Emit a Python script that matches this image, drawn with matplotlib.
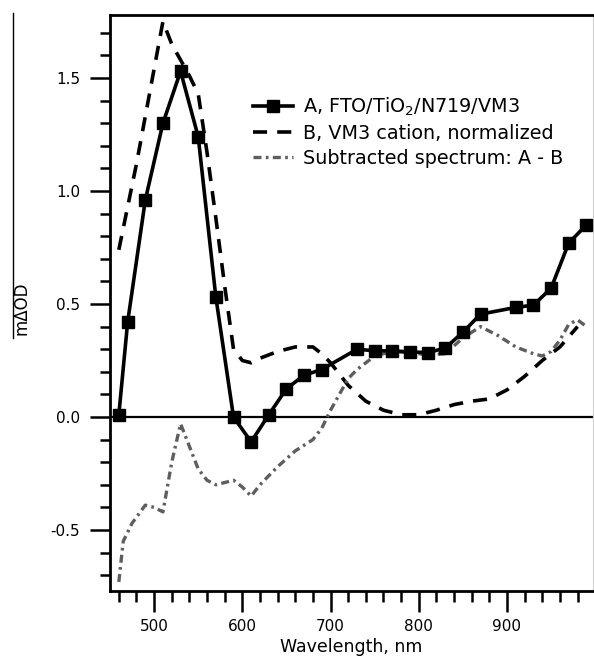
import matplotlib
matplotlib.use("Agg")
import matplotlib.pyplot as plt
from matplotlib.lines import Line2D
from matplotlib.ticker import MultipleLocator

plt.rcParams['font.family'] = ['DejaVu Sans']
plt.rcParams['mathtext.fontset'] = 'dejavusans'
plt.rcParams['mathtext.default'] = 'regular'

# Series A: FTO/TiO2/N719/VM3 (squares)
wl_a = [460, 470, 490, 510, 530, 550, 570, 590, 610, 630, 650, 670, 690,
        730, 750, 770, 790, 810, 830, 850, 870, 910, 930, 950, 970, 990]
od_a = [0.01, 0.42, 0.96, 1.30, 1.53, 1.24, 0.53, 0.0, -0.11, 0.01, 0.125, 0.185, 0.21,
        0.30, 0.293, 0.293, 0.288, 0.285, 0.305, 0.375, 0.455, 0.485, 0.495, 0.57, 0.77, 0.85]

# Series B: VM3 cation, normalized (dashed)
wl_b = [460, 470, 480, 490, 500, 510, 520, 530, 540, 550, 560, 570, 580, 590,
        600, 610, 620, 640, 660, 680, 690, 700, 720, 740, 760, 780, 800,
        820, 840, 860, 880, 900, 920, 940, 960, 980]
od_b = [0.74, 0.93, 1.12, 1.33, 1.54, 1.75, 1.65, 1.58, 1.51, 1.43, 1.17, 0.88, 0.58, 0.30,
        0.25, 0.24, 0.26, 0.29, 0.31, 0.31, 0.28, 0.24, 0.14, 0.07, 0.03, 0.01, 0.01,
        0.03, 0.055, 0.07, 0.08, 0.12, 0.18, 0.25, 0.31, 0.40]

# Subtracted spectrum: A - B (dash-dot)
wl_c = [460, 465, 475, 490, 500, 510, 520, 530, 540, 550, 560, 570, 580, 590,
        600, 610, 620, 640, 660, 680, 690, 700, 710, 720, 730, 750, 770, 790,
        810, 830, 850, 870, 890, 910, 930, 940, 950, 960, 970, 980, 990]
od_c = [-0.73, -0.55, -0.47, -0.39, -0.40, -0.42, -0.20, -0.03, -0.13, -0.23, -0.28, -0.30, -0.29, -0.28,
        -0.31, -0.35, -0.30, -0.22, -0.15, -0.10, -0.05, 0.03, 0.10, 0.17, 0.21, 0.27, 0.29, 0.285,
        0.275, 0.28, 0.35, 0.40, 0.36, 0.31, 0.28, 0.27, 0.29, 0.34, 0.41, 0.43, 0.40]

labels = ['A, FTO/TiO$_2$/N719/VM3', 'B, VM3 cation, normalized', 'Subtracted spectrum: A - B']

W, H = 594, 663
fig = plt.figure(figsize=(W / 100, H / 100), dpi=100)
ax = fig.add_axes([110 / W, 1 - 591 / H, (593 - 110) / W, (591 - 15) / H])

ax.axhline(0, color='black', lw=1.6, zorder=1)
ax.plot(wl_a, od_a, color='black', lw=2.6, marker='s', markersize=9, label=labels[0], zorder=3)
ax.plot(wl_b, od_b, color='black', lw=2.6, dashes=[3.9, 2.8], label=labels[1], zorder=2)
ax.plot(wl_c, od_c, color='#5e5e5e', lw=2.4, dashes=[2.4, 1.3, 0.8, 1.3], label=labels[2], zorder=2)

ax.set_xlim(450, 997.5)
ax.set_ylim(-0.77, 1.779)

ax.xaxis.set_major_locator(MultipleLocator(100))
ax.xaxis.set_minor_locator(MultipleLocator(20))
ax.yaxis.set_major_locator(MultipleLocator(0.5))
ax.yaxis.set_minor_locator(MultipleLocator(0.1))
ax.yaxis.set_major_formatter(plt.FuncFormatter(lambda v, p: f"{v:.1f}"))

ax.tick_params(axis='both', which='major', direction='out', width=1.8, labelsize=11)
ax.tick_params(axis='x', which='major', length=15, pad=5)
ax.tick_params(axis='x', which='minor', direction='out', length=8, width=1.8)
ax.tick_params(axis='y', which='major', length=14.4, pad=7)
ax.tick_params(axis='y', which='minor', direction='out', length=7.2, width=1.8)

for s in ['left', 'bottom', 'top']:
    ax.spines[s].set_linewidth(2.0)
ax.spines['right'].set_color('#d0d0d0')
ax.spines['right'].set_linewidth(0.8)

ax.set_xlabel('Wavelength, nm', fontsize=12.5, labelpad=3)

fig.text(21 / W, 1 - 308 / H, 'mΔOD', rotation=90, fontsize=12, ha='center', va='center')
fig.add_artist(Line2D([13 / W, 13 / W], [1 - 13 / H, 1 - 338 / H], color='black', lw=1))

leg = ax.legend(loc='upper left', bbox_to_anchor=(253 / W, 1 - 96 / H),
                bbox_transform=fig.transFigure, frameon=False, fontsize=13.8,
                handlelength=2.1, handletextpad=0.5, labelspacing=0.3,
                borderpad=0, borderaxespad=0)

fig.savefig('out.png', dpi=100)
